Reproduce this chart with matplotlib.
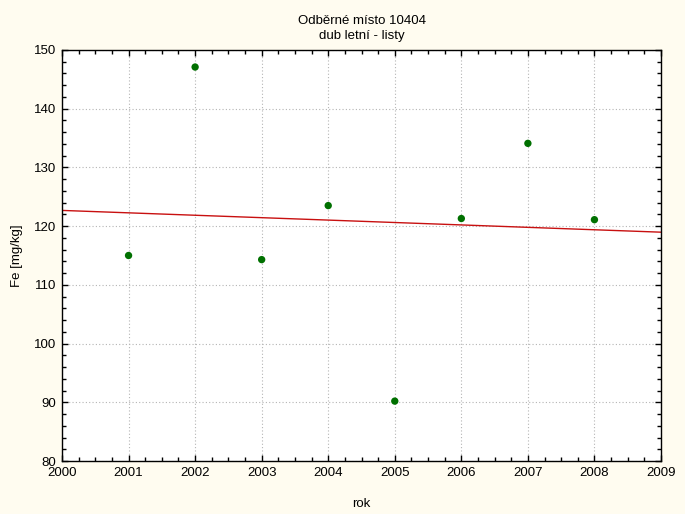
import numpy as np
import matplotlib
matplotlib.use("Agg")
import matplotlib.pyplot as plt
from matplotlib.ticker import MultipleLocator

years = [2001, 2002, 2003, 2004, 2005, 2006, 2007, 2008]
fe = [115.0, 147.1, 114.3, 123.5, 90.2, 121.3, 134.1, 121.1]
title = "Odběrné místo 10404\ndub letní - listy"
xlabel = "rok"
ylabel = "Fe [mg/kg]"

plt.rcParams['font.family'] = ['Liberation Sans', 'DejaVu Sans']
plt.rcParams['font.size'] = 9

bg = '#FFFCF0'
fig = plt.figure(figsize=(6.85, 5.14), dpi=100, facecolor=bg)
ax = fig.add_axes([62/685, 1 - 461/514, (661-62)/685, (461-50)/514])
ax.set_facecolor('white')

slope, intercept = np.polyfit(years, fe, 1)
xl = np.array([2000, 2009])
ax.plot(xl, slope * xl + intercept, color='#C81010', lw=1.0, zorder=2)
ax.scatter(years, fe, s=28, color='#007000', zorder=3, edgecolors='none')

ax.set_xlim(2000, 2009)
ax.set_ylim(80, 150)
ax.xaxis.set_major_locator(MultipleLocator(1))
ax.xaxis.set_minor_locator(MultipleLocator(0.25))
ax.yaxis.set_major_locator(MultipleLocator(10))
ax.yaxis.set_minor_locator(MultipleLocator(2))
ax.tick_params(which='both', direction='in', top=True, right=True, width=1, color='black', labelsize=9.5)
ax.tick_params(which='major', length=4, pad=4)
ax.tick_params(which='minor', length=3)
ax.grid(True, which='major', linestyle=(0, (1, 2)), color='#B4B4B4', lw=0.8)
for s in ax.spines.values():
    s.set_linewidth(1.0)
    s.set_color('black')

ax.set_title(title, fontsize=9.5, pad=8, linespacing=1.3)
ax.set_xlabel(xlabel, fontsize=9.5, labelpad=14)
ax.set_ylabel(ylabel, fontsize=9.5, labelpad=8)

fig.savefig('out.png', dpi=100, facecolor=bg)
